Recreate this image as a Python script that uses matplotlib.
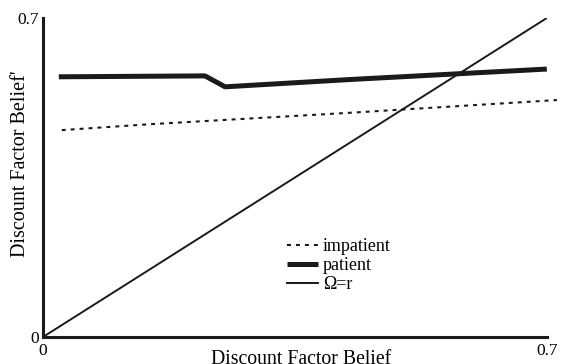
import matplotlib
matplotlib.use("Agg")
import matplotlib.pyplot as plt

# Belief update curves
patient_x = [0.022, 0.225, 0.253, 0.426, 0.700]
patient_y = [0.571, 0.573, 0.549, 0.565, 0.588]
impatient_x = [0.026, 0.149, 0.426, 0.714]
impatient_y = [0.454, 0.467, 0.492, 0.520]
diag = [0.0, 0.7]
tick_vals = [0, 0.7]
tick_labels = ["0", "0.7"]

plt.rcParams["font.family"] = ["Liberation Serif", "DejaVu Serif"]
plt.rcParams["font.size"] = 12

fig = plt.figure(figsize=(5.62, 3.64), dpi=100)
ax = fig.add_axes([0.0765, 0.0742, 0.8965, 0.8763])

ax.plot(impatient_x, impatient_y, color="#1a1a1a", lw=1.5,
        dashes=(1.9, 2.4), clip_on=False, label="impatient")
ax.plot(patient_x, patient_y, color="#1a1a1a", lw=3.6,
        solid_capstyle="butt", label="patient")
ax.plot(diag, diag, color="#1a1a1a", lw=1.4, label="Ω=r")

ax.set_xlim(0, 0.7)
ax.set_ylim(0, 0.7)
for s in ["top", "right"]:
    ax.spines[s].set_visible(False)
for s in ["left", "bottom"]:
    ax.spines[s].set_linewidth(2.2)
    ax.spines[s].set_color("#1a1a1a")

ax.set_xticks(tick_vals)
ax.set_xticklabels(tick_labels)
ax.set_yticks(tick_vals)
ax.set_yticklabels(tick_labels)
ax.tick_params(length=0, labelsize=12.5)
ax.tick_params(axis="x", pad=4.5)
ax.tick_params(axis="y", pad=3)

ax.set_xlabel("Discount Factor Belief", fontsize=14.2, va="baseline")
ax.xaxis.set_label_coords(0.512, -0.085)
ax.set_ylabel("Discount Factor Belief'", fontsize=14.5, va="baseline")
ax.yaxis.set_label_coords(-0.036, 0.542)

leg = ax.legend(loc="upper left", bbox_to_anchor=(287 / 562, 1 - 238 / 364),
                bbox_transform=fig.transFigure, frameon=False,
                handlelength=1.7, handletextpad=0.3, labelspacing=0.12,
                borderpad=0, borderaxespad=0, fontsize=13)

fig.savefig("out.png", dpi=100)
